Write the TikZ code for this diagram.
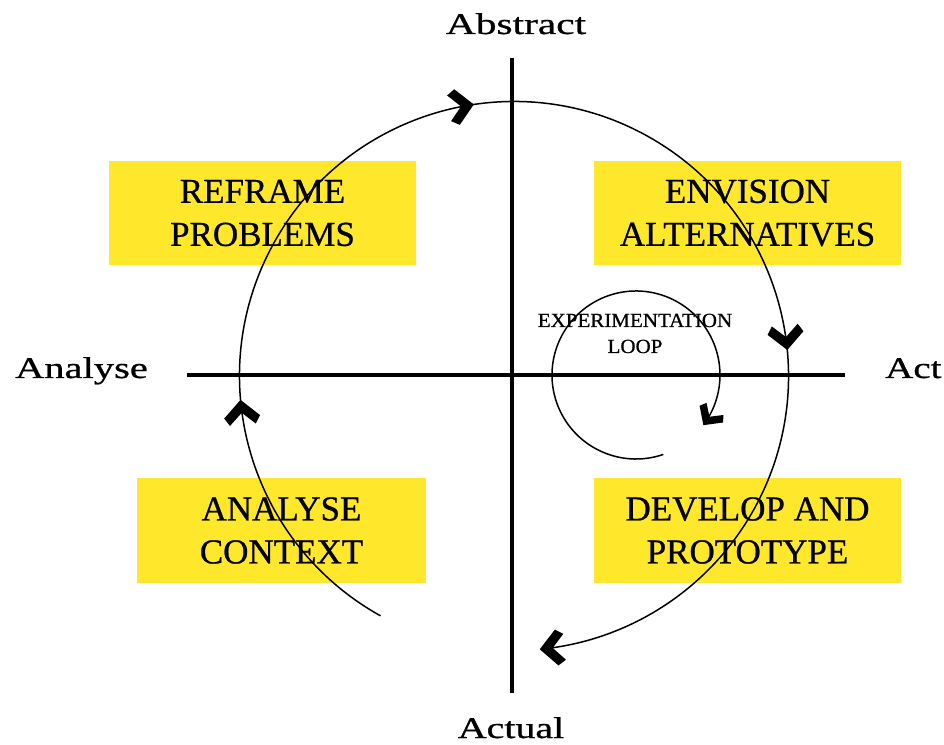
\documentclass[tikz,border=0pt]{standalone}
\usepackage{fontspec}
\setmainfont{Liberation Serif}
\newfontfamily\slabfont[FakeBold=0.7]{Liberation Serif}
\usepackage{graphicx}
\usetikzlibrary{decorations.markings}
\definecolor{boxyellow}{RGB}{255,232,44}
\newcommand\chevronmark{\fill (2pt,0pt) -- (-15pt,18pt) -- (-23pt,13pt) -- (-11pt,0pt) -- (-23pt,-13pt) -- (-15pt,-18pt) -- cycle;}
\newcommand\smallchevronmark{\fill[scale=0.8] (2pt,0pt) -- (-15pt,18pt) -- (-23pt,13pt) -- (-11pt,0pt) -- (-23pt,-13pt) -- (-15pt,-18pt) -- cycle;}
\begin{document}
\begin{tikzpicture}[x=1pt,y=1pt,
  quad/.style={fill=boxyellow, inner sep=0pt, align=center, font=\slabfont\fontsize{35}{43}\selectfont},
  axislabel/.style={font=\slabfont\fontsize{30}{36}\selectfont, inner sep=0pt, anchor=base},
  looplabel/.style={font=\slabfont\fontsize{20}{26}\selectfont, inner sep=0pt, anchor=base},
  axisline/.style={line width=3.2pt},
  spiralline/.style={line width=1.5pt, postaction={decorate}}]
\useasboundingbox (0,0) rectangle (944,744);
% quadrant boxes
\node[quad, minimum width=307pt, minimum height=104pt] (reframe) at (262.5,531) {REFRAME\\PROBLEMS};
\node[quad, minimum width=307pt, minimum height=104pt] (envision) at (747.5,531) {ENVISION\\ALTERNATIVES};
\node[quad, minimum width=289pt, minimum height=105pt] (analyse) at (281.5,213.5) {ANALYSE\\CONTEXT};
\node[quad, minimum width=307pt, minimum height=105pt] (develop) at (747.5,213.5) {DEVELOP AND\\PROTOTYPE};
% axes
\coordinate (ytop) at (512,686);
\coordinate (ybot) at (512,51);
\coordinate (xleft) at (187,369);
\coordinate (xright) at (845,369);
\draw[axisline] (ytop) -- (ybot);
\draw[axisline] (xleft) -- (xright);
% axis labels
\node[axislabel] (abstract) at (516,710) {\scalebox{1.38}[1]{Abstract}};
\node[axislabel] (actual) at (511,6) {\scalebox{1.33}[1]{Actual}};
\node[axislabel] (analyselbl) at (81.5,366) {\scalebox{1.35}[1]{Analyse}};
\node[axislabel, anchor=base west] (act) at (885,366) {\scalebox{1.3}[1]{Act}};
% big spiral
\draw[spiralline, decoration={markings,
    mark=at position 0.1707 with {\chevronmark},
    mark=at position 0.437 with {\chevronmark},
    mark=at position 0.723 with {\chevronmark},
    mark=at position 1 with {\chevronmark}}]
  (514,368) ++(240.9:274.5) arc[start angle=240.9, end angle=-84.2, radius=274.5];
% experimentation loop
\draw[spiralline, decoration={markings,
    mark=at position 1 with {\smallchevronmark}}]
  (636,369) ++(-71:84) arc[start angle=-71, end angle=-395.6, radius=84];
\node[looplabel] (exp1) at (635,417) {\scalebox{1.05}[1]{EXPERIMENTATION}};
\node[looplabel] (exp2) at (635,391) {\scalebox{1.05}[1]{LOOP}};
\end{tikzpicture}
\end{document}
